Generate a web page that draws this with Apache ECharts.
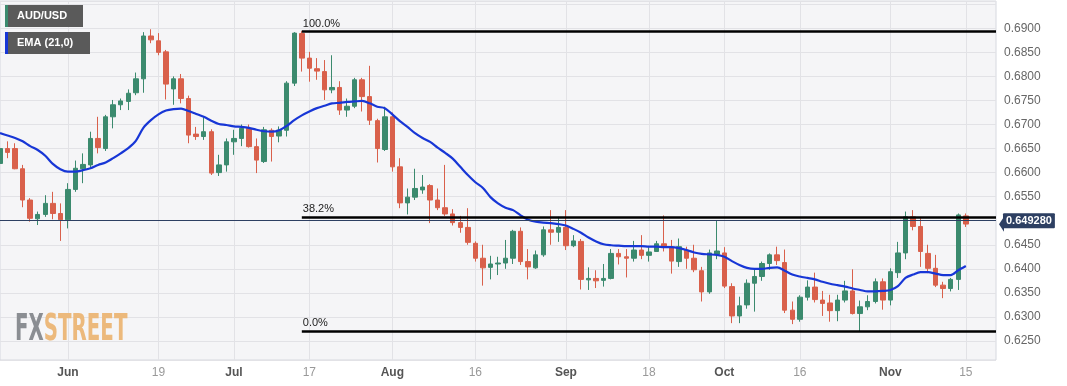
<!DOCTYPE html>
<html><head><meta charset="utf-8">
<script src="https://cdn.jsdelivr.net/npm/echarts@6/dist/echarts.min.js"></script>
<style>html,body{margin:0;padding:0;background:#fff}#c{width:1067px;height:386px}</style>
</head><body><div id="c"></div>
<script>
// ---- data (AUD/USD daily, 2023) ----
const dates = [
'2023-05-19','2023-05-22','2023-05-23','2023-05-24','2023-05-25','2023-05-26','2023-05-29','2023-05-30','2023-05-31',
'2023-06-01','2023-06-02','2023-06-05','2023-06-06','2023-06-07','2023-06-08','2023-06-09','2023-06-12','2023-06-13','2023-06-14','2023-06-15','2023-06-16','2023-06-19','2023-06-20','2023-06-21','2023-06-22','2023-06-23','2023-06-26','2023-06-27','2023-06-28','2023-06-29','2023-06-30',
'2023-07-03','2023-07-04','2023-07-05','2023-07-06','2023-07-07','2023-07-10','2023-07-11','2023-07-12','2023-07-13','2023-07-14','2023-07-17','2023-07-18','2023-07-19','2023-07-20','2023-07-21','2023-07-24','2023-07-25','2023-07-26','2023-07-27','2023-07-28','2023-07-31',
'2023-08-01','2023-08-02','2023-08-03','2023-08-04','2023-08-07','2023-08-08','2023-08-09','2023-08-10','2023-08-11','2023-08-14','2023-08-15','2023-08-16','2023-08-17','2023-08-18','2023-08-21','2023-08-22','2023-08-23','2023-08-24','2023-08-25','2023-08-28','2023-08-29','2023-08-30','2023-08-31',
'2023-09-01','2023-09-04','2023-09-05','2023-09-06','2023-09-07','2023-09-08','2023-09-11','2023-09-12','2023-09-13','2023-09-14','2023-09-15','2023-09-18','2023-09-19','2023-09-20','2023-09-21','2023-09-22','2023-09-25','2023-09-26','2023-09-27','2023-09-28','2023-09-29',
'2023-10-02','2023-10-03','2023-10-04','2023-10-05','2023-10-06','2023-10-09','2023-10-10','2023-10-11','2023-10-12','2023-10-13','2023-10-16','2023-10-17','2023-10-18','2023-10-19','2023-10-20','2023-10-23','2023-10-24','2023-10-25','2023-10-26','2023-10-27','2023-10-30','2023-10-31',
'2023-11-01','2023-11-02','2023-11-03','2023-11-06','2023-11-07','2023-11-08','2023-11-09','2023-11-10','2023-11-13','2023-11-14','2023-11-15'
];
const padDates = ['2023-11-16','2023-11-17','2023-11-20','2023-11-21'];

const open = [
.6619,.6650,.6650,.6608,.6543,.6504,.6513,.6536,.6515,
.6502,.6565,.6608,.6616,.6671,.6650,.6716,.6741,.6748,.6766,.6795,.6884,.6874,.6851,.6774,.6795,.6754,.6680,.6675,.6685,.6600,.6616,
.6664,.6671,.6692,.6654,.6623,.6688,.6676,.6688,.6786,.6889,.6838,.6816,.6810,.6772,.6777,.6730,.6738,.6793,.6758,.6708,.6648,
.6716,.6612,.6537,.6549,.6564,.6573,.6543,.6527,.6514,.6496,.6486,.6453,.6422,.6403,.6410,.6412,.6422,.6478,.6415,.6402,.6429,.6481,.6476,
.6486,.6448,.6457,.6377,.6380,.6376,.6380,.6432,.6425,.6422,.6439,.6428,.6436,.6452,.6445,.6415,.6439,.6422,.6396,.6352,.6430,
.6433,.6363,.6302,.6325,.6370,.6384,.6411,.6429,.6413,.6314,.6295,.6341,.6362,.6335,.6329,.6313,.6335,.6354,.6307,.6321,.6332,.6373,
.6335,.6392,.6433,.6508,.6488,.6432,.6401,.6366,.6359,.6378,.6510
];
const close = [
.6650,.6642,.6608,.6543,.6505,.6513,.6536,.6515,.6502,
.6565,.6609,.6617,.6671,.6652,.6716,.6741,.6749,.6765,.6795,.6884,.6876,.6850,.6784,.6795,.6754,.6678,.6675,.6685,.6599,.6616,.6664,
.6671,.6692,.6654,.6626,.6689,.6675,.6688,.6786,.6890,.6838,.6817,.6811,.6772,.6777,.6730,.6738,.6793,.6758,.6709,.6650,.6716,
.6612,.6537,.6549,.6567,.6570,.6543,.6527,.6514,.6496,.6486,.6455,.6422,.6402,.6410,.6412,.6422,.6478,.6415,.6404,.6429,.6481,.6476,.6486,
.6448,.6458,.6378,.6380,.6375,.6380,.6432,.6425,.6422,.6439,.6428,.6435,.6452,.6445,.6416,.6446,.6422,.6398,.6352,.6433,.6437,
.6364,.6302,.6323,.6370,.6384,.6411,.6429,.6417,.6314,.6295,.6341,.6362,.6336,.6328,.6313,.6335,.6354,.6307,.6321,.6332,.6373,.6335,
.6394,.6433,.6508,.6488,.6436,.6401,.6366,.6359,.6378,.6512,.6493
];
const low = [
.6612,.6630,.6607,.6528,.6498,.6491,.6508,.6503,.6458,
.6484,.6560,.6578,.6610,.6640,.6645,.6692,.6730,.6730,.6761,.6766,.6869,.6844,.6752,.6741,.6744,.6661,.6668,.6668,.6595,.6593,.6602,
.6637,.6655,.6652,.6599,.6620,.6623,.6663,.6675,.6780,.6810,.6789,.6793,.6751,.6765,.6720,.6716,.6734,.6727,.6699,.6621,.6645,
.6602,.6526,.6513,.6543,.6556,.6495,.6522,.6510,.6490,.6475,.6450,.6415,.6365,.6378,.6387,.6400,.6410,.6408,.6378,.6400,.6425,.6450,.6456,
.6439,.6445,.6357,.6356,.6360,.6363,.6378,.6409,.6382,.6415,.6420,.6415,.6436,.6436,.6390,.6404,.6400,.6393,.6332,.6348,.6420,
.6360,.6287,.6287,.6317,.6311,.6375,.6398,.6408,.6308,.6285,.6290,.6334,.6330,.6302,.6290,.6291,.6330,.6305,.6269,.6314,.6328,.6315,
.6324,.6381,.6420,.6480,.6404,.6391,.6362,.6339,.6353,.6356,.6487
];
const high = [
.6658,.6665,.6661,.6616,.6547,.6519,.6553,.6560,.6536,
.6578,.6625,.6640,.6685,.6716,.6720,.6751,.6754,.6773,.6808,.6892,.6898,.6890,.6855,.6800,.6805,.6760,.6695,.6715,.6690,.6637,.6671,
.6689,.6700,.6700,.6671,.6695,.6692,.6696,.6790,.6892,.6894,.6851,.6838,.6834,.6844,.6790,.6754,.6797,.6797,.6822,.6712,.6737,
.6725,.6630,.6567,.6608,.6595,.6576,.6567,.6616,.6524,.6510,.6526,.6457,.6450,.6427,.6425,.6460,.6481,.6486,.6441,.6438,.6488,.6522,.6508,
.6522,.6470,.6462,.6403,.6397,.6410,.6441,.6441,.6441,.6458,.6470,.6445,.6458,.6511,.6460,.6463,.6446,.6450,.6404,.6440,.6501,
.6445,.6370,.6342,.6378,.6401,.6415,.6432,.6446,.6440,.6332,.6345,.6376,.6392,.6354,.6346,.6346,.6375,.6399,.6334,.6345,.6380,.6380,
.6401,.6456,.6519,.6522,.6505,.6450,.6429,.6373,.6381,.6515,.6515
];
const ema21 = [
.6682,.6677,.6672,.6665,.6655,.6647,.6635,.6618,.6607,
.6602,.6602,.6605,.6609,.6616,.6621,.6630,.6640,.6651,.6666,.6693,.6709,.6721,.6729,.6732,.6733,.6728,.6722,.6716,.6708,.6701,.6699,
.6696,.6695,.6693,.6689,.6686,.6685,.6688,.6697,.6709,.6719,.6727,.6734,.6739,.6744,.6745,.6747,.6748,.6749,.6744,.6737,.6734,
.6721,.6707,.6695,.6682,.6672,.6664,.6652,.6641,.6629,.6612,.6595,.6580,.6568,.6549,.6536,.6527,.6522,.6511,.6502,.6498,.6496,.6495,.6493,
.6490,.6483,.6475,.6465,.6457,.6451,.6449,.6448,.6447,.6447,.6447,.6446,.6446,.6445,.6445,.6443,.6439,.6434,.6431,.6430,.6429,
.6425,.6416,.6408,.6402,.6400,.6400,.6402,.6403,.6396,.6388,.6384,.6381,.6378,.6373,.6369,.6366,.6363,.6359,.6356,.6353,.6353,.6354,
.6356,.6364,.6381,.6388,.6393,.6393,.6390,.6387,.6387,.6397,.6406
];
const tickDates  = ['2023-06-01','2023-06-19','2023-07-03','2023-07-17','2023-08-01','2023-08-16','2023-09-01','2023-09-18','2023-10-02','2023-10-16','2023-11-01','2023-11-15'];
const tickLabels = ['Jun','19','Jul','17','Aug','16','Sep','18','Oct','16','Nov','15'];
const fibLevels = [0.6894, 0.6508, 0.6271];
const fibLabels = ['100.0%', '38.2%', '0.0%'];
const fibStart = '2023-07-14';
const lastPrice = 0.64928;
const lastPriceText = '0.649280';

// ---- chart ----
const UP = '#3b8a6e', DOWN = '#d9604b', NAVY = '#2d3f62', EMA_C = '#1736d6';
const cats = dates.concat(padDates);
const lastCat = cats[cats.length - 1];
const candles = dates.map((d, i) => [open[i], close[i], low[i], high[i]]);
const FONT = 'Arial, "Liberation Sans", sans-serif';
const LOGO_FONT = 'bold 37px "DejaVu Sans Condensed", "Liberation Sans Narrow", sans-serif';

const fibMark = fibLevels.map((lv, i) => [
  { coord: [fibStart, lv], label: { formatter: fibLabels[i] } },
  { coord: [lastCat, lv] }
]);

const chart = echarts.init(document.getElementById('c'));
chart.setOption({
  animation: false,
  grid: { left: 0, right: 71, top: 1, bottom: 26, show: true, backgroundColor: '#f5f5f7', borderColor: '#d6d8df', borderWidth: 1 },
  xAxis: {
    type: 'category', data: cats, boundaryGap: false,
    axisLine: { show: false }, axisTick: { show: false },
    axisLabel: {
      interval: (idx, val) => tickDates.indexOf(val) >= 0,
      margin: 7,
      formatter: (val) => { const t = tickLabels[tickDates.indexOf(val)]; return isNaN(+t) ? '{m|' + t + '}' : '{d|' + t + '}'; },
      rich: { m: { fontWeight: 'bold', color: '#555', fontSize: 12, fontFamily: FONT }, d: { color: '#999', fontSize: 12, fontFamily: FONT } }
    },
    splitLine: { show: true, interval: (idx, val) => tickDates.indexOf(val) >= 0, lineStyle: { color: '#e2e2e6', width: 1 } }
  },
  yAxis: {
    type: 'value', position: 'right', scale: true,
    min: 0.62104, max: 0.695676, splitNumber: 15,
    axisLine: { show: false }, axisTick: { show: false },
    axisLabel: { color: '#666', fontSize: 12, fontFamily: FONT, margin: 8, showMinLabel: false, showMaxLabel: false,
      formatter: v => (v > 0.6925 ? '' : v.toFixed(4)) },
    splitLine: { show: true, lineStyle: { color: '#e2e2e6', width: 1 } }
  },
  series: [
    {
      type: 'candlestick', data: candles, barWidth: 5,
      itemStyle: { color: UP, color0: DOWN, borderColor: UP, borderColor0: DOWN, borderWidth: 1 },
      markLine: {
        silent: true, symbol: ['none', 'none'], animation: false,
        lineStyle: { color: '#000', width: 2.5, type: 'solid' },
        label: { show: true, position: 'insideStartTop', color: '#222', fontSize: 11, fontFamily: FONT, distance: [1, 2] },
        data: fibMark.concat([{
          yAxis: lastPrice,
          lineStyle: { color: NAVY, width: 1, type: 'solid' },
          label: { show: true, position: 'end', formatter: lastPriceText, color: '#fff', fontWeight: 'bold', fontSize: 11, fontFamily: FONT, backgroundColor: NAVY, padding: [2, 3, 2, 3], distance: 7, borderRadius: 1 }
        }])
      },
      z: 3
    },
    {
      type: 'line', data: ema21, smooth: 0.3, showSymbol: false, symbol: 'none',
      lineStyle: { color: EMA_C, width: 2.2 }, z: 4
    }
  ]
});

// arrow of the last-price tag and overlays
const py = chart.convertToPixel({ yAxisIndex: 0 }, lastPrice);
const pxEnd = chart.convertToPixel({ xAxisIndex: 0 }, lastCat);
chart.setOption({
  graphic: [
    { type: 'polygon', shape: { points: [[pxEnd + 3, py], [pxEnd + 8, py - 7.5], [pxEnd + 8, py + 7.5]] }, style: { fill: NAVY }, z: 10 },
    { type: 'rect', shape: { x: 5, y: 5, width: 78, height: 22 }, style: { fill: '#5a5a5a' }, z: 10 },
    { type: 'rect', shape: { x: 5, y: 5, width: 3, height: 22 }, style: { fill: UP }, z: 11 },
    { type: 'text', x: 17, y: 16, style: { text: 'AUD/USD', fill: '#fff', font: 'bold 11px ' + FONT, textVerticalAlign: 'middle' }, z: 11 },
    { type: 'rect', shape: { x: 5, y: 32, width: 85, height: 22 }, style: { fill: '#5a5a5a' }, z: 10 },
    { type: 'rect', shape: { x: 5, y: 32, width: 3, height: 22 }, style: { fill: EMA_C }, z: 11 },
    { type: 'text', x: 17, y: 43, style: { text: 'EMA (21,0)', fill: '#fff', font: 'bold 11px ' + FONT, textVerticalAlign: 'middle' }, z: 11 },
    { type: 'text', x: 15, y: 349, scaleX: 0.595,
      style: { text: '{a|FX}{b|STREET}', font: LOGO_FONT, textVerticalAlign: 'bottom',
        rich: { a: { fill: '#8b8e93', font: LOGO_FONT }, b: { fill: '#ecb97c', font: LOGO_FONT } } },
      z: 1 }
  ]
});
</script></body></html>
